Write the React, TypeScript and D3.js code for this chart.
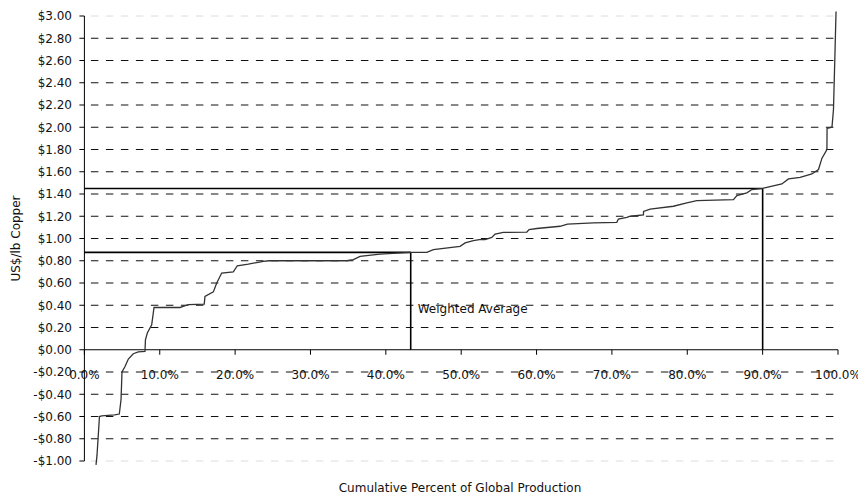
import React from "react";
import * as d3 from "d3";

const curvePct: number[] = [
  1.54, 1.67, 2.0, 2.3, 4.0, 4.63, 4.86, 4.99, 5.39, 5.83, 6.49, 7.15, 8.04,
  8.1, 8.35, 8.93, 9.24, 12.7, 13.1, 13.8, 15.9, 16.0, 17.11, 17.56, 18.22,
  19.76, 20.29, 21.75, 23.75, 24.5, 34.81, 35.69, 36.58, 39.23, 43.22, 45.43,
  46.31, 49.85, 50.52, 51.62, 52.4, 53.17, 54.06, 54.5, 55.6, 58.71, 59.01,
  60.03, 63.13, 64.1, 67.55, 70.65, 70.86, 71.98, 72.42, 74.18, 74.2, 75.07,
  78.16, 79.94, 81.27, 86.13, 86.58, 87.91, 88.57, 89.98, 92.55, 93.43, 94.98,
  96.53, 97.41, 97.86, 98.53, 98.55, 99.2, 99.4, 99.6, 99.74,
];
const curveCost: number[] = [
  -1.035, -0.95, -0.6, -0.595, -0.585, -0.578, -0.45, -0.2, -0.15, -0.084,
  -0.036, -0.02, -0.015, 0.09, 0.15, 0.225, 0.38, 0.38, 0.39, 0.405, 0.41,
  0.48, 0.52, 0.6, 0.69, 0.7, 0.755, 0.77, 0.795, 0.8, 0.8, 0.81, 0.84, 0.86,
  0.875, 0.875, 0.9, 0.93, 0.96, 0.98, 0.99, 0.99, 1.01, 1.04, 1.055, 1.058,
  1.08, 1.09, 1.11, 1.13, 1.14, 1.145, 1.175, 1.19, 1.2, 1.213, 1.243, 1.265,
  1.29, 1.32, 1.34, 1.35, 1.385, 1.41, 1.44, 1.45, 1.49, 1.535, 1.55, 1.58,
  1.62, 1.72, 1.8, 1.99, 2.0, 2.16, 2.67, 3.04,
];

// Weighted average markers: [cumulative %, US$/lb]
const avgPct: number[] = [43.3, 90.0];
const avgCost: number[] = [0.875, 1.45];
const avgLabel = "Weighted Average";

const yTicks: number[] = d3.range(-1, 3.0001, 0.2).map((v) => Math.round(v * 100) / 100);
const xTicks: number[] = d3.range(0, 100.0001, 10);

const yTitle = "US$/lb Copper";
const xTitle = "Cumulative Percent of Global Production";

const W = 858;
const H = 495;
const FONT = "'DejaVu Sans', Verdana, sans-serif";

function fmtMoney(v: number): string {
  const s = "$" + Math.abs(v).toFixed(2);
  return v < 0 ? "-" + s : s;
}

export default function App() {
  const x = d3.scaleLinear().domain([0, 100]).range([84.4, 838]);
  const y = d3.scaleLinear().domain([-1, 3]).range([461, 16]);
  const pts: [number, number][] = curvePct.map((p, i) => [p, curveCost[i]]);
  const line = d3
    .line<[number, number]>()
    .x((d) => x(d[0]))
    .y((d) => y(d[1]));

  const x0 = x(0);
  const y0 = y(0);

  return (
    <svg
      width={W}
      height={H}
      style={{ position: "absolute", left: 0, top: 0, background: "#fff" }}
      fontFamily={FONT}
    >
      <rect x={0} y={0} width={W} height={H} fill="#fff" />
      {/* gridlines */}
      {yTicks
        .filter((v) => Math.abs(v) > 1e-9)
        .map((v) => {
          const edge = Math.abs(v - 3) < 1e-9 || Math.abs(v + 1) < 1e-9;
          return (
            <line
              key={"g" + v}
              x1={x0 + 6.5}
              x2={x(100) - 1}
              y1={y(v)}
              y2={y(v)}
              stroke={edge ? "#dcdcdc" : "#111"}
              strokeWidth={1}
              strokeDasharray="7.5,7.5"
            />
          );
        })}

      {/* x-axis tick labels (drawn before lines like the original) */}
      {xTicks.map((t) => (
        <text
          key={"xl" + t}
          x={x(t)}
          y={379}
          fontSize={12}
          textAnchor="middle"
          fill="#111"
        >
          {t.toFixed(1) + "%"}
        </text>
      ))}

      {/* y axis */}
      <line x1={x0} x2={x0} y1={y(3)} y2={y(-1)} stroke="#000" strokeWidth={1} />
      {yTicks.map((v) => (
        <g key={"yt" + v}>
          <line x1={x0 - 5} x2={x0} y1={y(v)} y2={y(v)} stroke="#000" strokeWidth={1} />
          <text
            x={72}
            y={y(v) + 4.3}
            fontSize={12}
            textAnchor="end"
            fill="#111"
          >
            {fmtMoney(v)}
          </text>
        </g>
      ))}

      {/* x axis at zero */}
      <line x1={x0} x2={x(100)} y1={y0} y2={y0} stroke="#000" strokeWidth={1} />
      {xTicks.map((t) => (
        <line
          key={"xt" + t}
          x1={x(t)}
          x2={x(t)}
          y1={y0}
          y2={y0 + 5}
          stroke="#000"
          strokeWidth={1}
        />
      ))}

      {/* weighted average lines */}
      {avgPct.map((p, i) => (
        <g key={"avg" + i}>
          <line
            x1={x0}
            x2={x(p)}
            y1={y(avgCost[i])}
            y2={y(avgCost[i])}
            stroke="#000"
            strokeWidth={1.6}
          />
          <line
            x1={x(p)}
            x2={x(p)}
            y1={y(avgCost[i])}
            y2={y0}
            stroke="#000"
            strokeWidth={1.6}
          />
        </g>
      ))}
      <text x={x(avgPct[0]) + 7} y={313} fontSize={12} fill="#111">
        {avgLabel}
      </text>

      {/* cost curve */}
      <path d={line(pts) || ""} fill="none" stroke="#333" strokeWidth={1.3} />

      {/* titles */}
      <text
        transform={`translate(19.5, 238.5) rotate(-90)`}
        fontSize={12}
        textAnchor="middle"
        fill="#111"
      >
        {yTitle}
      </text>
      <text x={460} y={492} fontSize={12} textAnchor="middle" fill="#111">
        {xTitle}
      </text>
    </svg>
  );
}
